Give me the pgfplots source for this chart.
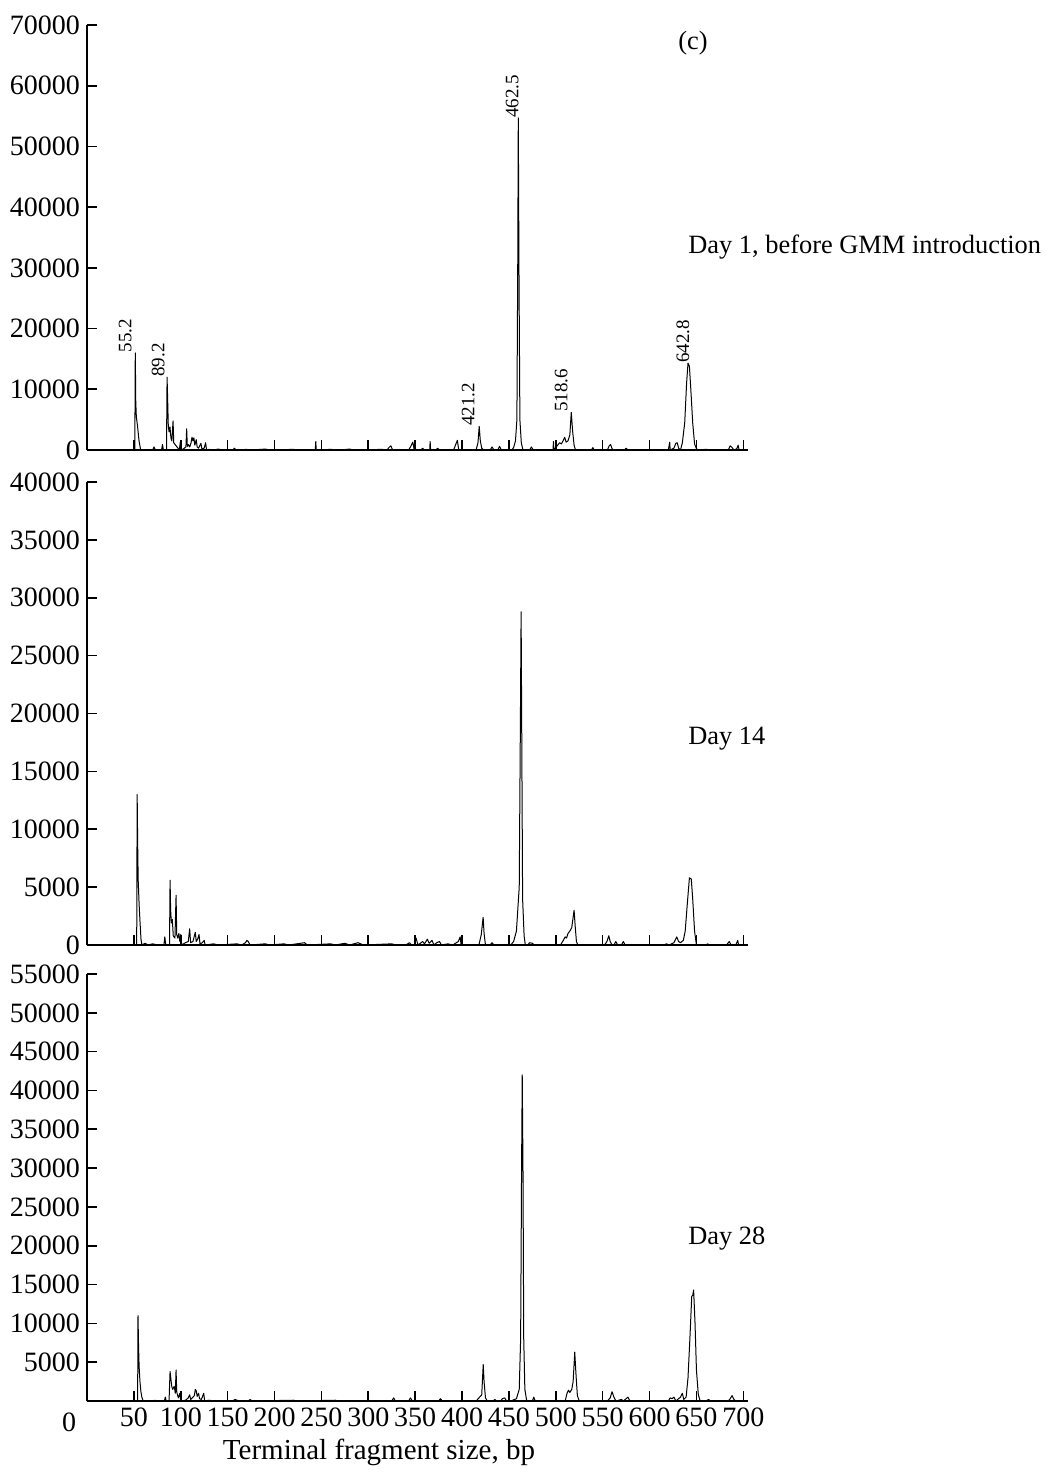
\documentclass[border=0pt]{standalone}
\usepackage{fontspec}
\setmainfont{Liberation Serif}
\usepackage{pgfplots}
\pgfplotsset{compat=1.18}

\newcommand{\lbl}{\fontsize{13.2}{15}\selectfont}
\newcommand{\tkl}{\fontsize{14}{16}\selectfont}
\newcommand{\pk}{\fontsize{9.5}{11}\selectfont}

\pgfplotsset{
  trf/.style={
    scale only axis, width=330.5pt,
    xmin=0, xmax=705, ymin=0,
    axis x line=bottom, axis y line=left,
    axis line style={-, line width=0.8pt, black},
    tick align=inside, major tick length=5pt,
    tick style={line width=0.8pt, black},
    xtick={0,50,...,700},
    scaled y ticks=false,
    ticklabel style={font=\tkl},
    /pgf/number format/assume math mode=true,
    /pgf/number format/1000 sep={},
    clip=false,
  },
  trace/.style={black, line width=0.5pt, line join=round, no marks},
}

\begin{document}
\begin{tikzpicture}
\path (0,0) rectangle (522.5pt,-736pt);

% ---- Day 1
\begin{axis}[trf, at={(43.5pt,-225pt)}, anchor=south west,
  height=212.5pt, ymax=70000, ytick={0,10000,...,70000}, xticklabels={}]
\addplot[trace] coordinates {
(45,0) (51,0) (51.5,16000) (52,8000) (52.6,5500) (54,3800) (55.5,1500) (57,200) (58,0)
(70,0) (71.5,500) (73,0) (79.5,0) (80.5,900) (81.5,0) (84.8,0) (85.4,12000) (86,8500)
(86.7,4000) (87.5,3000) (88.5,3800) (89.5,2000) (90.5,1500) (91.8,4800) (92.5,1200)
(94,900) (95.5,600) (97,300) (98.5,0) (99.5,1300) (100.2,0) (103,200) (105.5,500)
(106.3,3500) (107,600) (108,900) (109.5,500) (111,1200) (112,2100) (113,1500) (114,2000)
(115,800) (116.5,1700) (117.5,500) (119,300) (121.5,1100) (122.5,200) (125,300)
(126.5,1200) (127.5,0) (130,100) (135,0) (140,150) (145,0) (156,0) (157,300) (159,0)
(170,100) (175,0) (190,150) (195,0) (220,100) (225,0) (243.5,0) (244,1400) (244.5,0)
(260,100) (270,0) (280,150) (285,0) (315,100) (320,0) (322,400) (324,700) (326,0)
(343,0) (345,500) (347.5,1300) (349,0) (356,0) (358,300) (360,0) (365.5,0) (366,1400)
(366.5,0) (372,0) (374,300) (376,0) (391,0) (393,800) (395,1600) (396.5,0) (415,0)
(417,1200) (418.3,3900) (419.5,1500) (421,300) (423,0) (430,0) (432,500) (434,0)
(438,0) (440,600) (442,0) (453,0) (455,400) (457,1500) (458.5,5000) (459.4,30000)
(460,54700) (460.7,30000) (461.7,5000) (463.2,1200) (465,0) (472,0) (474,500) (476,0)
(497,0) (497.5,1400) (498,0) (502,800) (504,1200) (506,1000) (508,1600) (509.5,2100)
(511,1300) (513,1500) (515,2500) (516.5,6200) (518,3000) (519.5,800) (521,0) (538,0)
(539.5,400) (541,0) (555,0) (557,700) (558.5,900) (560,200) (562,0) (573,0) (575,300)
(577,0) (620,0) (621.5,1300) (622,0) (626,300) (628,1100) (629.5,1200) (631,300)
(633,0) (635,1200) (637.5,4500) (639.5,11000) (641,14300) (642.5,13800) (644,10000)
(646,4500) (648,1000) (650,200) (652,0) (660,100) (670,0) (684,0) (686,700) (688,400)
(690,0) (693,200) (694.5,800) (695.5,0) (704,0)
};
\node[rotate=90, anchor=west, inner sep=0pt, font=\pk] at (axis cs:51.5,16000) [yshift=5pt] {55.2};
\node[rotate=90, anchor=west, inner sep=0pt, font=\pk] at (axis cs:85.4,12000) [yshift=4.5pt] {89.2};
\node[rotate=90, anchor=west, inner sep=0pt, font=\pk] at (axis cs:418.3,3900) [yshift=5.5pt] {421.2};
\node[rotate=90, anchor=west, inner sep=0pt, font=\pk] at (axis cs:460,54700) [yshift=3pt] {462.5};
\node[rotate=90, anchor=west, inner sep=0pt, font=\pk] at (axis cs:516.5,6200) [yshift=5pt] {518.6};
\node[rotate=90, anchor=west, inner sep=0pt, font=\pk] at (axis cs:641,14300) [yshift=2.5pt] {642.8};
\end{axis}

% ---- Day 14
\begin{axis}[trf, at={(43.5pt,-472.5pt)}, anchor=south west,
  height=231.5pt, ymax=40000, ytick={0,5000,...,40000}, xticklabels={}]
\addplot[trace] coordinates {
(45,0) (53,0) (53.5,13000) (54,9000) (54.6,5600) (55.6,3500) (56.6,1900) (57.6,500)
(58.6,0) (62,150) (65,0) (70,100) (75,0) (82,0) (83,700) (84,0) (88,0) (88.6,5600)
(89.2,3000) (90,1900) (91,2200) (92,800) (93.8,600) (95,4300) (95.7,900) (96.8,600)
(98,1000) (99,300) (100,900) (101,0) (105,200) (108,300) (109.5,1400) (110.5,200)
(113,300) (115.5,1100) (116.5,300) (118,500) (119.5,900) (120.5,100) (123,200)
(125,400) (126,0) (135,100) (140,0) (160,100) (165,0) (169,200) (170.5,400) (172,300)
(174,0) (190,100) (195,0) (210,100) (215,0) (228,150) (232,200) (235,0) (260,100)
(265,0) (275,150) (280,0) (289,200) (292,100) (295,0) (325,100) (330,0) (340,0)
(344,200) (346,0) (349,0) (351,600) (353,0) (358,300) (360,100) (363,500) (365,150)
(368,400) (370,0) (373,200) (376,300) (378,0) (385,100) (390,0) (396,300) (398,700)
(399,0) (418,0) (420.5,900) (422.5,2400) (423.5,1000) (425,0) (430,0) (432,200)
(434,0) (452,0) (455,300) (458,1200) (461,5000) (462.3,20000) (463,28800) (463.7,18000)
(464.6,4000) (466.2,800) (467.5,0) (470,0) (472,200) (475,150) (477,0) (505,0)
(508,400) (510,700) (511.5,600) (513,1000) (515,1200) (517,1500) (519.5,3000)
(520.8,1500) (522,300) (523.5,0) (552,0) (554.5,300) (556.5,800) (558,300) (560,0)
(562,0) (564,300) (566,0) (570,0) (572,300) (574,0) (615,0) (618,100) (621,0) (626,200)
(629,700) (631,300) (633,200) (636,400) (638,1200) (640.5,3800) (642.5,5800)
(644.5,5700) (646,4000) (648,1200) (650,0) (660,0) (662,100) (664,0) (682,0)
(685,300) (687,0) (692,0) (694,400) (695,0) (704,0)
};
\end{axis}

% ---- Day 28
\begin{axis}[trf, at={(43.5pt,-700.5pt)}, anchor=south west,
  height=213.5pt, ymax=55000, ytick={5000,10000,...,55000},
  xticklabels={,50,100,150,200,250,300,350,400,450,500,550,600,650,700}]
\addplot[trace] coordinates {
(45,0) (54,0) (54.4,11000) (55,7000) (55.6,4400) (56.5,2500) (57.5,1200) (58.5,500)
(60,0) (70,0) (72,100) (75,0) (82.5,0) (83.5,500) (84.5,0) (87.5,0) (88.6,3800)
(89.5,2800) (90.5,1800) (91.5,1500) (93,1900) (94.2,1000) (95,4000) (95.7,1200)
(96.5,800) (97.5,400) (99,1000) (100,0) (105,100) (108,400) (109.5,800) (110.5,200)
(113,500) (114.5,700) (115.5,1500) (116.5,1300) (117.5,600) (119,1000) (120,300)
(122,200) (124.5,1000) (125.5,0) (130,100) (135,0) (155,0) (158,200) (160,100)
(163,0) (172,0) (174,200) (176,0) (220,100) (225,0) (265,100) (268,0) (325,0)
(327,400) (329,0) (343,0) (345,400) (347,0) (375,0) (377,300) (379,0) (415,0)
(421,800) (422.6,4700) (423.5,2500) (425,400) (427,0) (433,0) (435,200) (437,0)
(441,0) (443,300) (445.5,400) (447.5,0) (452,0) (458,300) (461,1500) (462.5,8000)
(463.5,30000) (464.2,42000) (465,30000) (465.8,8000) (467,1500) (469,0) (475,0)
(476.5,500) (478,0) (510,0) (512,1000) (513.5,1400) (515,1100) (517,1500)
(518.5,2500) (520.2,6300) (521.5,3500) (523,700) (525,0) (555,0) (558,400)
(560,1200) (562,500) (564,0) (570,200) (572,0) (577,500) (579,0) (620,0) (622,400)
(624,300) (626,500) (628,0) (633,500) (635,1000) (636.5,200) (639,500) (641,3000)
(643,8000) (645,13500) (646,13600) (647,14300) (648.5,10000) (650,4000) (652,800)
(654,0) (660,0) (663,200) (665,0) (684,0) (686,300) (688,700) (690,200) (692,0)
(704,0)
};
\end{axis}

% ---- free text
\node[font=\lbl] at (346.5pt,-21.5pt) {(c)};
\node[font=\lbl, anchor=west, inner sep=0pt] at (344pt,-123.5pt) {Day 1, before GMM introduction};
\node[font=\lbl, anchor=west, inner sep=0pt] at (344pt,-369.5pt) {Day 14};
\node[font=\lbl, anchor=west, inner sep=0pt] at (344pt,-619.5pt) {Day 28};
\node[font=\tkl] at (34.5pt,-711pt) {0};
\node[font=\fontsize{14.5}{16}\selectfont] at (189.5pt,-726pt) {Terminal fragment size, bp};
\end{tikzpicture}
\end{document}
